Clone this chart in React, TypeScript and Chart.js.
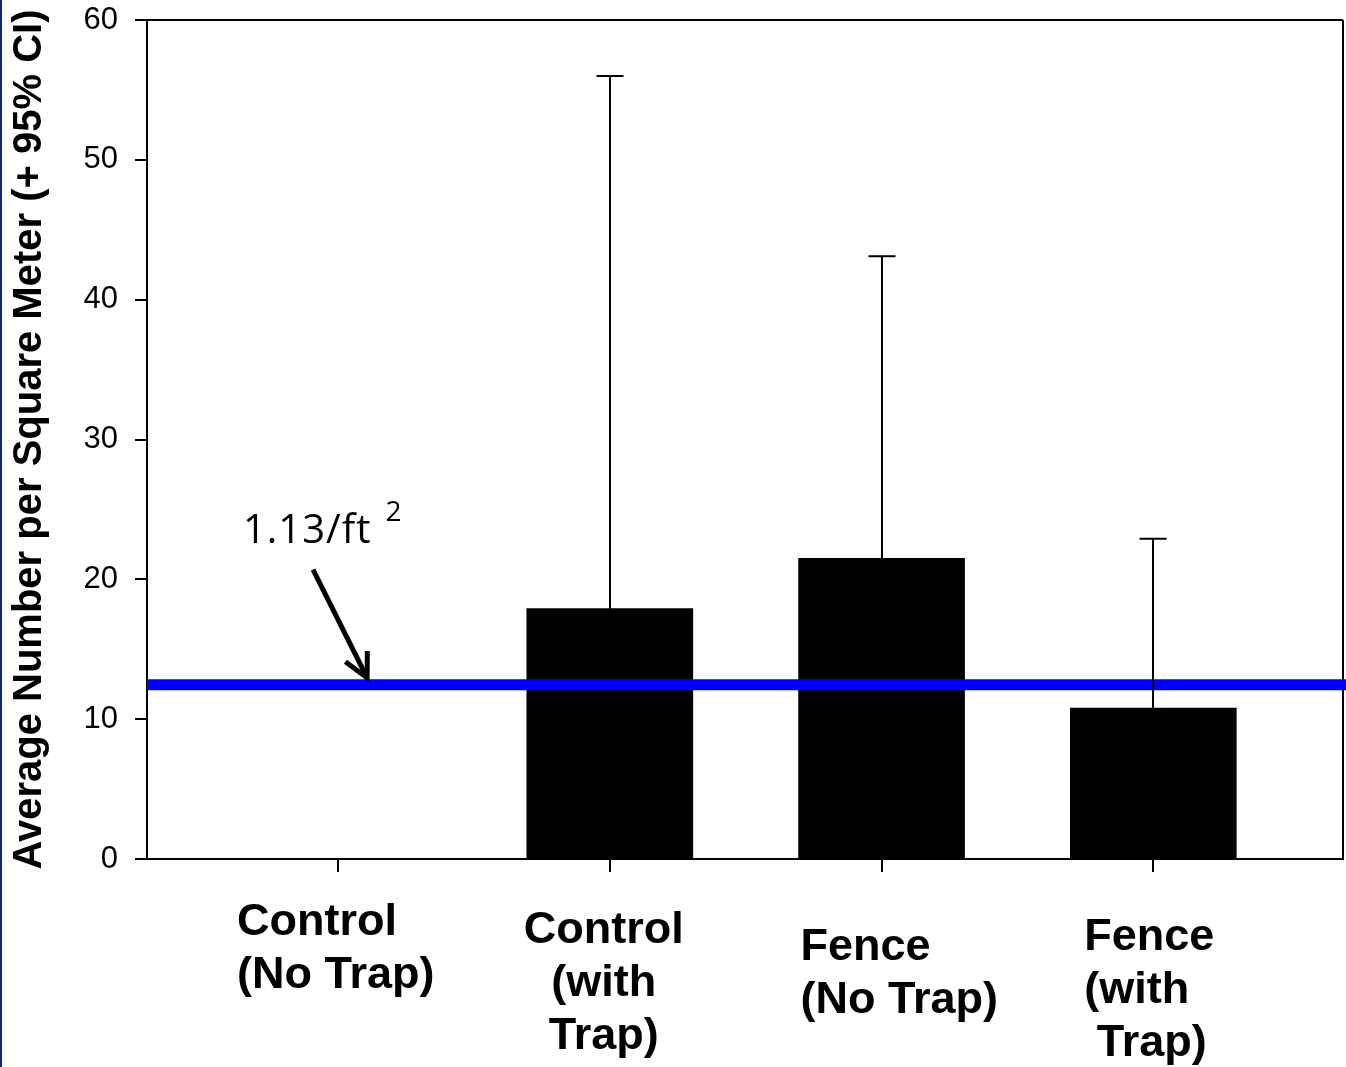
import React, { useEffect, useRef } from 'react';
import { Chart, registerables } from 'chart.js';

Chart.register(...registerables);

// ---------- data ----------
const categories = ['Control (No Trap)', 'Control (with Trap)', 'Fence (No Trap)', 'Fence (with Trap)'];
const categoryLines = [
  ['Control', '(No Trap)'],
  ['Control', '(with', 'Trap)'],
  ['Fence', '(No Trap)'],
  ['Fence', '(with', ' Trap)'],
];
const means = [0, 17.9, 21.5, 10.8];
const upperCI = [0, 56.0, 43.1, 22.9];
const yTicks = [0, 10, 20, 30, 40, 50, 60];
const thresholdValue = 12.47;
const thresholdText = '1.13/ft';
const thresholdSup = '2';
const yTitle = 'Average Number per Square Meter (+ 95% CI)';

// ---------- layout / style ----------
const FAMILY = '"Liberation Sans", Arial, Helvetica, sans-serif';
const labelLayout = [
  { align: 'left', dx: -101, dy: 76 },
  { align: 'center', dx: -6, dy: 84 },
  { align: 'left', dx: -81, dy: 101 },
  { align: 'left', dx: -69, dy: 91 },
];
const LINE_H = 53;
const annotationPos = { labelX: -0.35, labelY: 22.6, tailX: -0.092, tailY: 20.7, tipX: 0.107, tipY: 12.95 };

const customPlugin = {
  id: 'custom',
  beforeDraw(chart: any) {
    const ctx = chart.ctx;
    ctx.save();
    ctx.fillStyle = '#ffffff';
    ctx.fillRect(0, 0, chart.width, chart.height);
    ctx.fillStyle = '#0c2b6b';
    ctx.fillRect(0, 0, 2, chart.height);
    ctx.restore();
  },
  afterDatasetsDraw(chart: any) {
    const ctx = chart.ctx;
    const xs = chart.scales.x;
    const ys = chart.scales.y;
    const area = chart.chartArea;
    ctx.save();

    // frame top/right
    ctx.strokeStyle = '#000';
    ctx.lineWidth = 2;
    ctx.beginPath();
    ctx.moveTo(area.left, Math.round(area.top));
    ctx.lineTo(area.right, Math.round(area.top));
    ctx.moveTo(Math.round(area.right), area.top);
    ctx.lineTo(Math.round(area.right), area.bottom);
    ctx.stroke();

    // threshold line
    const ty = ys.getPixelForValue(thresholdValue);
    ctx.strokeStyle = '#0000ff';
    ctx.lineWidth = 11;
    ctx.beginPath();
    ctx.moveTo(area.left, ty);
    ctx.lineTo(chart.width, ty);
    ctx.stroke();

    // error bars
    ctx.strokeStyle = '#000';
    ctx.lineWidth = 2;
    for (let i = 0; i < means.length; i++) {
      if (upperCI[i] <= means[i]) continue;
      const x = Math.round(xs.getPixelForValue(i));
      const y0 = ys.getPixelForValue(means[i]);
      const y1 = ys.getPixelForValue(upperCI[i]);
      ctx.beginPath();
      ctx.moveTo(x, y0);
      ctx.lineTo(x, y1);
      ctx.moveTo(x - 13.5, y1);
      ctx.lineTo(x + 13.5, y1);
      ctx.stroke();
    }

    // annotation arrow
    const tx0 = xs.getPixelForValue(annotationPos.tailX);
    const ty0 = ys.getPixelForValue(annotationPos.tailY);
    const tx1 = xs.getPixelForValue(annotationPos.tipX);
    const ty1 = ys.getPixelForValue(annotationPos.tipY);
    ctx.lineWidth = 5;
    ctx.lineCap = 'butt';
    ctx.beginPath();
    ctx.moveTo(tx0, ty0);
    ctx.lineTo(tx1, ty1);
    ctx.stroke();
    const ang = Math.atan2(ty1 - ty0, tx1 - tx0) + Math.PI;
    const spread = 0.47;
    const len = 27;
    ctx.lineJoin = 'miter';
    ctx.beginPath();
    ctx.moveTo(tx1 + len * Math.cos(ang - spread), ty1 + len * Math.sin(ang - spread));
    ctx.lineTo(tx1, ty1);
    ctx.lineTo(tx1 + len * Math.cos(ang + spread), ty1 + len * Math.sin(ang + spread));
    ctx.stroke();

    // annotation text
    const lx = xs.getPixelForValue(annotationPos.labelX);
    const ly = ys.getPixelForValue(annotationPos.labelY);
    ctx.fillStyle = '#000';
    ctx.textBaseline = 'alphabetic';
    ctx.textAlign = 'left';
    ctx.font = '40px "Open Sans", "Liberation Sans", sans-serif';
    (ctx as any).letterSpacing = '1px';
    ctx.fillText(thresholdText, lx, ly);
    const w = ctx.measureText(thresholdText).width;
    (ctx as any).letterSpacing = '0px';
    ctx.font = '28px "Open Sans", "Liberation Sans", sans-serif';
    ctx.fillText(thresholdSup, lx + w + 14, ly - 22);

    // category labels
    ctx.font = 'bold 45px ' + FAMILY;
    for (let i = 0; i < categoryLines.length; i++) {
      const cx = xs.getPixelForValue(i);
      const lay = labelLayout[i];
      ctx.textAlign = lay.align as CanvasTextAlign;
      categoryLines[i].forEach((line, j) => {
        ctx.fillText(line, cx + lay.dx, area.bottom + lay.dy + j * LINE_H);
      });
    }
    ctx.restore();
  },
};

export default function App() {
  const ref = useRef<HTMLCanvasElement | null>(null);
  useEffect(() => {
    document.body.style.margin = '0';
    document.body.style.overflow = 'hidden';
    const canvas = ref.current;
    if (!canvas) return;
    const chart = new Chart(canvas, {
      type: 'bar',
      data: {
        labels: categories,
        datasets: [
          {
            label: 'Average',
            data: means.map((v, i) => ({ x: i, y: v })) as any,
            backgroundColor: '#000000',
            borderWidth: 0,
            barThickness: 166,
          },
        ],
      },
      options: {
        animation: false,
        responsive: false,
        layout: { padding: { left: 0, top: 20, right: 3, bottom: 0 } },
        plugins: { legend: { display: false }, tooltip: { enabled: false } },
        scales: {
          x: {
            type: 'linear',
            min: -0.703,
            max: 3.698,
            offset: false,
            afterBuildTicks: (s: any) => {
              s.ticks = categories.map((_, i) => ({ value: i }));
            },
            afterFit: (s: any) => {
              s.height = 208;
              s.paddingLeft = 0;
              s.paddingRight = 0;
            },
            ticks: { display: false },
            grid: { offset: false, drawOnChartArea: false, drawTicks: true, tickLength: 13, lineWidth: 2, color: '#000' },
            border: { display: true, color: '#000', width: 2 },
          },
          y: {
            type: 'linear',
            min: 0,
            max: 60,
            afterBuildTicks: (s: any) => {
              s.ticks = yTicks.map((v) => ({ value: v }));
            },
            afterFit: (s: any) => {
              s.width = 147;
              s.paddingTop = 0;
              s.paddingBottom = 0;
            },
            ticks: { color: '#000', padding: 17, font: { size: 31, family: FAMILY } },
            grid: { drawOnChartArea: false, drawTicks: true, tickLength: 12, lineWidth: 2, color: '#000' },
            border: { display: true, color: '#000', width: 2 },
            title: {
              display: true,
              text: yTitle,
              color: '#000',
              font: { size: 40, weight: 'bold', family: FAMILY },
              padding: { top: 6, bottom: 0 },
            },
          },
        },
      } as any,
      plugins: [customPlugin],
    });
    return () => chart.destroy();
  }, []);
  return (
    <div style={{ width: 1346, height: 1067 }}>
      <canvas ref={ref} width={1346} height={1067} style={{ display: 'block' }} />
    </div>
  );
}
